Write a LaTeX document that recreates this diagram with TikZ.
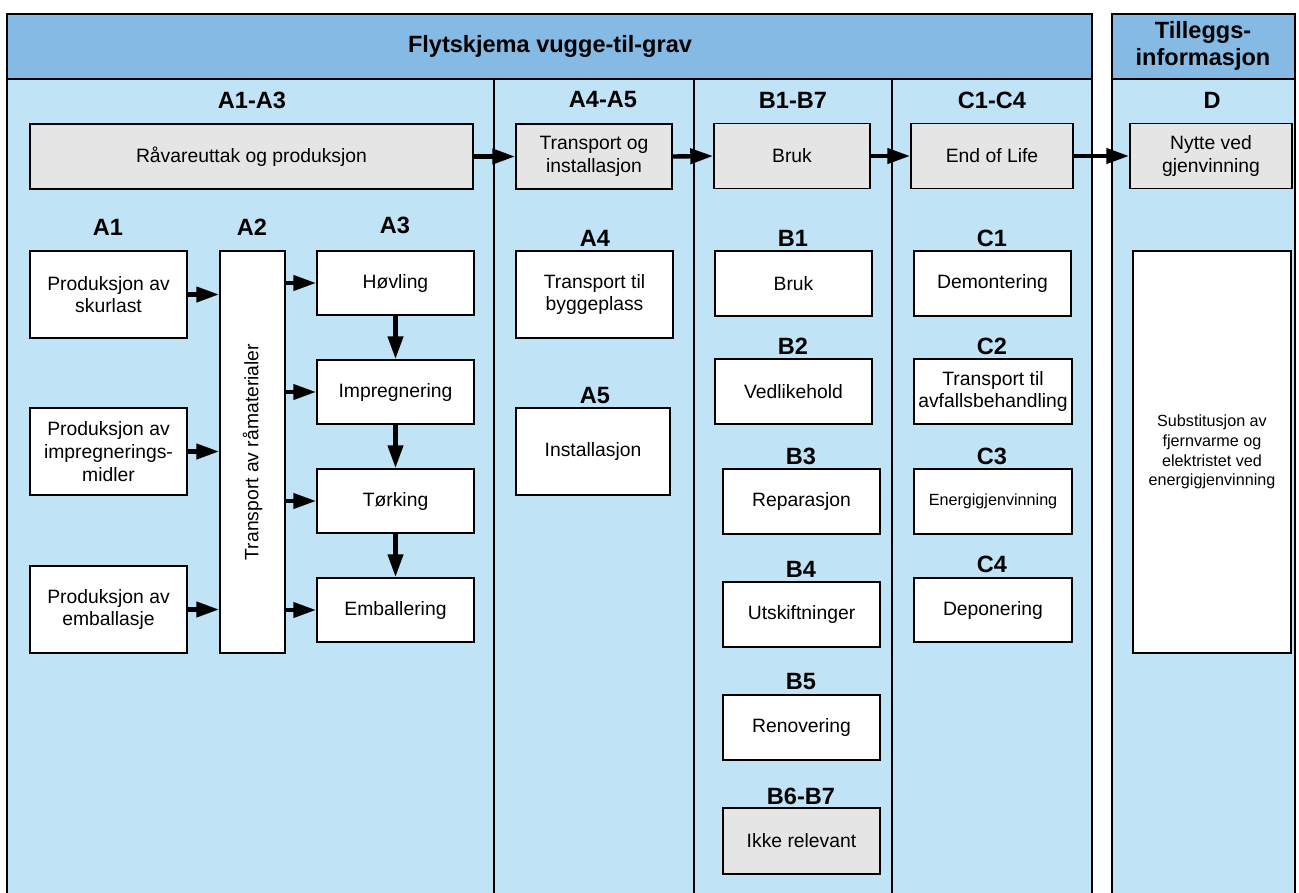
\documentclass[tikz,border=0pt]{standalone}
\usepackage{fontspec}
\setmainfont{Liberation Sans}
\usetikzlibrary{arrows.meta}
\definecolor{hdrblue}{HTML}{84BAE4}
\definecolor{bodyblue}{HTML}{C1E3F6}
\definecolor{boxgray}{HTML}{E5E5E5}
\tikzset{
  box/.style={draw, fill=white, line width=1pt, align=center, inner sep=1pt,
    font=\fontsize{11}{12.9}\selectfont},
  greybox/.style={box, fill=boxgray},
  wh/.style 2 args={minimum width=#1*0.02cm, minimum height=#2*0.02cm},
  head/.style={font=\bfseries\fontsize{13.4}{15.5}\selectfont, inner sep=0pt},
  flow/.style={line width=2.5pt, -{Triangle[length=13pt,width=8.5pt]}},
}
\begin{document}
\begin{tikzpicture}[x=0.02cm, y=-0.02cm]
		\useasboundingbox (0,0) rectangle (1299,893);
		\clip (0,0) rectangle (1299,893);
		%%% frames
		\fill[hdrblue] (7,14) rectangle (1092,79);
		\fill[bodyblue] (7,79) rectangle (1092,900);
		\fill[hdrblue] (1112,14) rectangle (1295,79);
		\fill[bodyblue] (1112,79) rectangle (1295,900);
		\draw[line width=1pt] (7,900) -- (7,14) -- (1092,14) -- (1092,900);
		\draw[line width=1pt] (1112,900) -- (1112,14) -- (1295,14) -- (1295,900);
		\draw[line width=1pt] (7,79) -- (1092,79);
		\draw[line width=1pt] (1112,79) -- (1295,79);
		\draw[line width=1pt] (494,79) -- (494,900);
		\draw[line width=1pt] (694,79) -- (694,900);
		\draw[line width=1pt] (892,79) -- (892,900);
		%%% headings
		\node[head] (title) at (550,46) {Flytskjema vugge-til-grav};
		\node[head, align=center] (extra) at (1203,46) {Tilleggs-\\informasjon};
		\node[head] (hA13) at (252,100) {A1-A3};
		\node[head] (hA45) at (603,100) {A4-A5};
		\node[head] (hB) at (793,100) {B1-B7};
		\node[head] (hC) at (992,100) {C1-C4};
		\node[head] (hD) at (1212,100) {D};
		%%% top row
		\node[greybox, wh={443}{65}] (raw) at (251.5,156.5) {Råvareuttak og produksjon};
		\node[greybox, wh={156}{65}] (inst) at (594,156.5) {Transport og\\installasjon};
		\node[greybox, wh={156}{65}] (use) at (792,156) {Bruk};
		\node[greybox, wh={162}{65}] (eol) at (992,156) {End of Life};
		\node[greybox, wh={162}{65}] (gain) at (1211,156) {Nytte ved\\gjenvinning};
		\draw[flow] (raw.east) -- (inst.west);
		\draw[flow] (inst.east) -- (use.west);
		\draw[flow] (use.east) -- (eol.west);
		\draw[flow] (eol.east) -- (gain.west);
		%%% A1-A3
		\node[head] (hA1) at (108,227) {A1};
		\node[head] (hA2) at (252,227) {A2};
		\node[head] (hA3) at (395,225) {A3};
		\node[box, wh={157}{87}] (lumber) at (108.5,294.5) {Produksjon av\\skurlast};
		\node[box, wh={157}{87}] (agent) at (108.5,451.5) {Produksjon av\\impregnerings-\\midler};
		\node[box, wh={157}{87}] (pack) at (108.5,609.5) {Produksjon av\\emballasje};
		\node[box, wh={65}{402}] (haul) at (252.5,452) {};
		\node[rotate=90, font=\fontsize{11}{12.9}\selectfont] (haultxt) at (haul.center) {Transport av råmaterialer};
		\node[box, wh={157}{64}] (plane) at (395.5,283) {Høvling};
		\node[box, wh={157}{64}] (impreg) at (395.5,392) {Impregnering};
		\node[box, wh={157}{64}] (dry) at (395.5,501) {Tørking};
		\node[box, wh={157}{64}] (wrap) at (395.5,610) {Emballering};
		\draw[flow] (lumber.east) -- (lumber.east -| haul.west);
		\draw[flow] (agent.east) -- (agent.east -| haul.west);
		\draw[flow] (pack.east) -- (pack.east -| haul.west);
		\draw[flow] (plane.west -| haul.east) -- (plane.west);
		\draw[flow] (impreg.west -| haul.east) -- (impreg.west);
		\draw[flow] (dry.west -| haul.east) -- (dry.west);
		\draw[flow] (wrap.west -| haul.east) -- (wrap.west);
		\draw[flow] (plane) -- (impreg);
		\draw[flow] (impreg) -- (dry);
		\draw[flow] (dry) -- (wrap);
		%%% A4-A5
		\node[head] (hA4) at (595,238) {A4};
		\node[box, wh={157}{87}] (site) at (594.5,294.5) {Transport til\\byggeplass};
		\node[head] (hA5) at (595,396) {A5};
		\node[box, wh={154}{87}] (mount) at (593,451.5) {Installasjon};
		%%% B1-B7
		\node[head] (hB1) at (793,238) {B1};
		\node[box, wh={157}{65}] (b1) at (793.5,283.5) {Bruk};
		\node[head] (hB2) at (793,346) {B2};
		\node[box, wh={157}{65}] (b2) at (793.5,391.5) {Vedlikehold};
		\node[head] (hB3) at (801,456) {B3};
		\node[box, wh={157}{65}] (b3) at (801.5,501.5) {Reparasjon};
		\node[head] (hB4) at (801,569) {B4};
		\node[box, wh={157}{65}] (b4) at (801.5,614.5) {Utskiftninger};
		\node[head] (hB5) at (801,682) {B5};
		\node[box, wh={157}{65}] (b5) at (801.5,727.5) {Renovering};
		\node[head] (hB67) at (801,796) {B6-B7};
		\node[greybox, wh={157}{66}] (b67) at (801.5,841) {Ikke relevant};
		%%% C1-C4
		\node[head] (hC1) at (992,238) {C1};
		\node[box, wh={157}{65}] (c1) at (992.5,283.5) {Demontering};
		\node[head] (hC2) at (992,346) {C2};
		\node[box, wh={158}{65}] (c2) at (993,391.5) {Transport til\\avfallsbehandling};
		\node[head] (hC3) at (992,456) {C3};
		\node[box, wh={158}{65}, font=\fontsize{9.2}{11}\selectfont] (c3) at (993,501.5) {Energigjenvinning};
		\node[head] (hC4) at (992,564) {C4};
		\node[box, wh={158}{64}] (c4) at (993,610) {Deponering};
		%%% D
		\node[box, wh={158}{402}, font=\fontsize{9.2}{11.3}\selectfont] (dsub) at (1212,452) {Substitusjon av\\fjernvarme og\\elektristet ved\\energigjenvinning};
	\end{tikzpicture}
\end{document}
